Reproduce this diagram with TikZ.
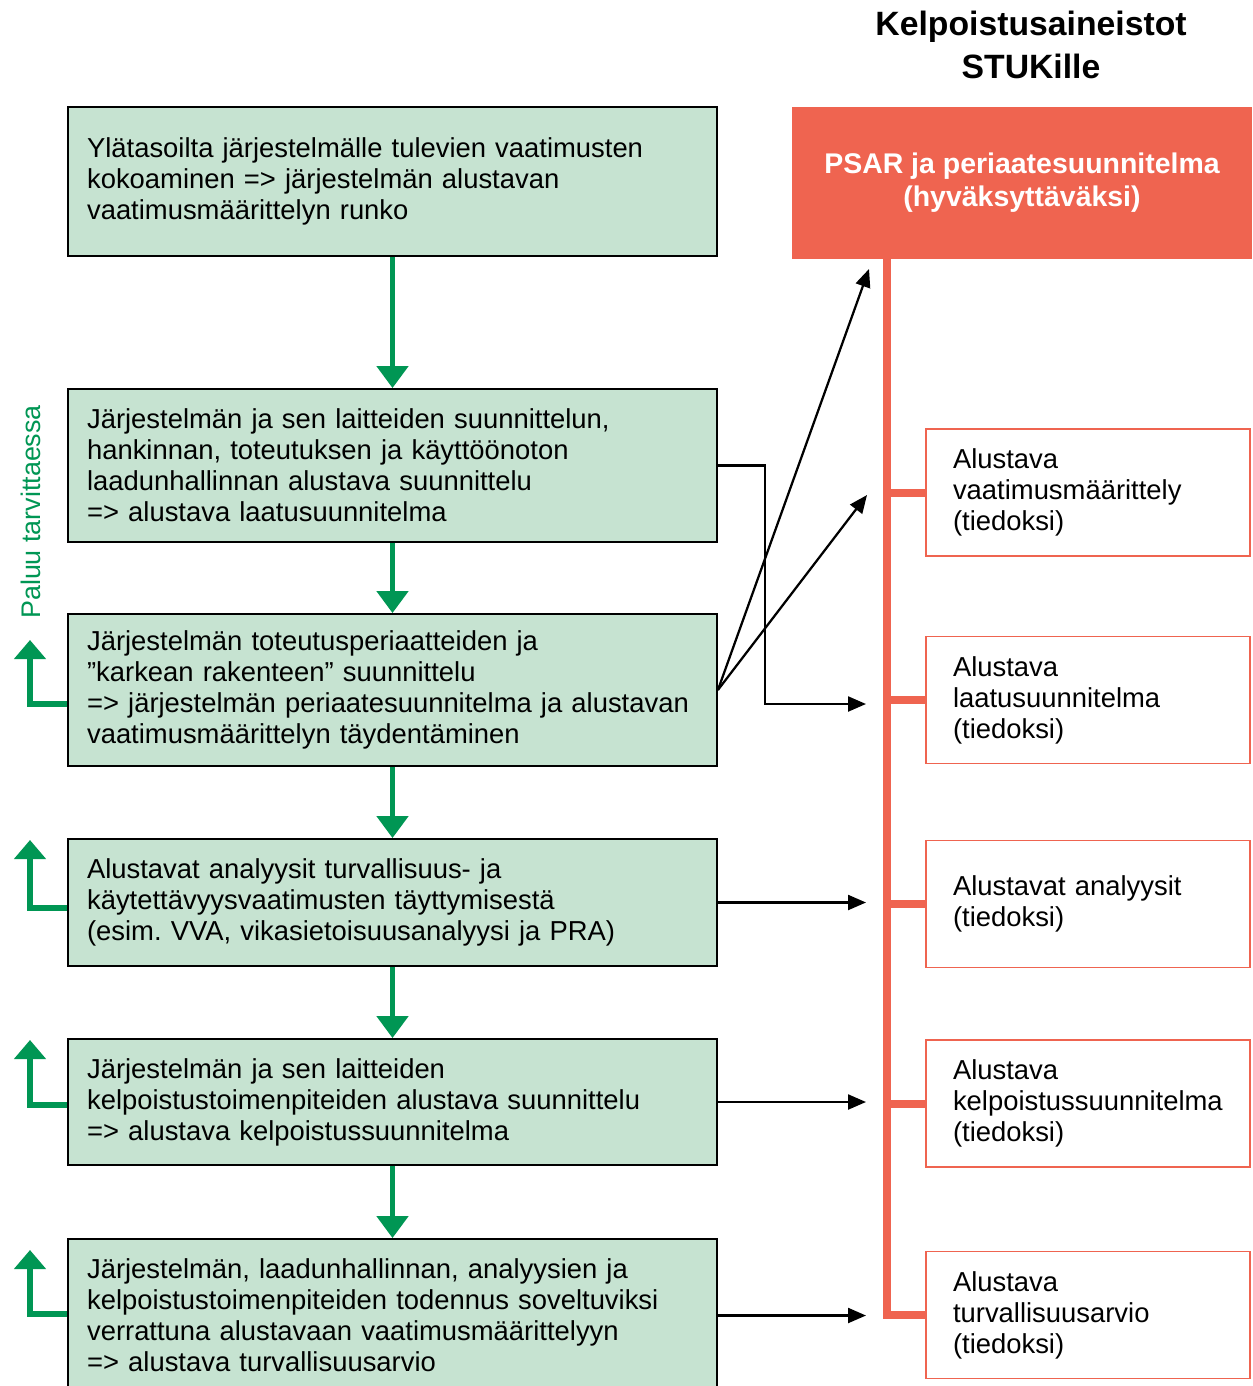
\documentclass[tikz,border=0pt]{standalone}
\usepackage{fontspec}
\setmainfont{Liberation Sans}
\usetikzlibrary{arrows.meta,calc}
\definecolor{gfill}{RGB}{198,227,209}
\definecolor{garr}{RGB}{0,150,84}
\definecolor{rred}{RGB}{239,100,80}
\begin{document}
\begin{tikzpicture}[x=0.02cm,y=-0.02cm,
 gbox/.style={draw=black,line width=1.1pt,fill=gfill,minimum width=12.98cm,text width=12.22cm,inner xsep=0.38cm,inner ysep=0pt,align=left,font=\fontsize{15.6}{17.6}\selectfont},
 rbox/.style={draw=rred,line width=1.1pt,fill=white,minimum width=6.48cm,minimum height=2.54cm,text width=5.4cm,inner xsep=0.54cm,inner ysep=0pt,align=left,font=\fontsize{15.6}{17.6}\selectfont},
 gdown/.style={draw=garr,line width=0.1cm,-{Triangle[width=0.62cm,length=0.44cm]}},
 gback/.style={draw=garr,line width=0.12cm,-{Triangle[width=0.62cm,length=0.38cm]}},
 barr/.style={draw=black,line width=0.045cm,-{Triangle[width=0.3cm,length=0.36cm]}},
 spine/.style={draw=rred,line width=0.16cm},
]
\clip (0,0) rectangle (1252,1386);
\fill[white] (0,0) rectangle (1252,1386);

% title
\node[font=\bfseries\fontsize{19.2}{24.4}\selectfont,align=center] (title) at (1031,45) {Kelpoistusaineistot\\STUKille};

% red head
\node[fill=rred,minimum width=9.2cm,minimum height=3.04cm,text=white,align=center,font=\bfseries\fontsize{16.2}{18.7}\selectfont] (r0) at (1022,183) {PSAR ja periaatesuunnitelma\\(hyväksyttäväksi)};

% left boxes
\node[gbox,minimum height=2.98cm] (b1) at (392.5,181.5) {Ylätasoilta järjestelmälle tulevien vaatimusten\\kokoaminen => järjestelmän alustavan\\vaatimusmäärittelyn runko};
\node[gbox,minimum height=3.06cm] (b2) at (392.5,465.5) {Järjestelmän ja sen laitteiden suunnittelun,\\hankinnan, toteutuksen ja käyttöönoton\\laadunhallinnan alustava suunnittelu\\=> alustava laatusuunnitelma};
\node[gbox,minimum height=3.04cm] (b3) at (392.5,690) {Järjestelmän toteutusperiaatteiden ja\\”karkean rakenteen” suunnittelu\\=> järjestelmän periaatesuunnitelma ja alustavan\\vaatimusmäärittelyn täydentäminen};
\node[gbox,minimum height=2.54cm] (b4) at (392.5,902.5) {Alustavat analyysit turvallisuus- ja\\käytettävyysvaatimusten täyttymisestä\\(esim.\ VVA, vikasietoisuusanalyysi ja PRA)};
\node[gbox,minimum height=2.52cm] (b5) at (392.5,1102) {Järjestelmän ja sen laitteiden\\kelpoistustoimenpiteiden alustava suunnittelu\\=> alustava kelpoistussuunnitelma};
\node[gbox,minimum height=3.06cm] (b6) at (392.5,1315.5) {Järjestelmän, laadunhallinnan, analyysien ja\\kelpoistustoimenpiteiden todennus soveltuviksi\\verrattuna alustavaan vaatimusmäärittelyyn\\=> alustava turvallisuusarvio};

% right boxes
\node[rbox] (r1) at (1088,492.5) {Alustava\\vaatimusmäärittely\\(tiedoksi)};
\node[rbox] (r2) at (1088,700) {Alustava\\laatusuunnitelma\\(tiedoksi)};
\node[rbox] (r3) at (1088,904) {Alustavat analyysit\\(tiedoksi)};
\node[rbox] (r4) at (1088,1103.5) {Alustava\\kelpoistussuunnitelma\\(tiedoksi)};
\node[rbox] (r5) at (1088,1315) {Alustava\\turvallisuusarvio\\(tiedoksi)};

% red spine
\coordinate (rs) at ([xshift=1.9cm,yshift=0.05cm]r0.south west);
\draw[spine] (rs) |- (r5.west);
\foreach \r in {r1,r2,r3,r4}{\draw[spine] (\r.west) -- (\r.west -| rs);}

% green down arrows
\draw[gdown] (b1.south) -- (b2.north);
\draw[gdown] (b2.south) -- (b3.north);
\draw[gdown] (b3.south) -- (b4.north);
\draw[gdown] (b4.south) -- (b5.north);
\draw[gdown] (b5.south) -- (b6.north);

% green return arrows
\coordinate (g3) at (30,640);
\coordinate (g4) at (30,840);
\coordinate (g5) at (30,1040);
\coordinate (g6) at (30,1250);
\draw[gback] ($(b3.west)+(0,14)$) -| (g3);
\draw[gback] ($(b4.west)+(0,5)$) -| (g4);
\draw[gback] ($(b5.west)+(0,3)$) -| (g5);
\draw[gback] ($(b6.west)+(0,-2)$) -| (g6);
\node[rotate=90,text=garr,font=\fontsize{15.3}{17}\selectfont] (paluu) at (31,512) {Paluu tarvittaessa};

% black arrows
\coordinate (t1) at (869,269);
\coordinate (t2) at (867,495);
\coordinate (t3) at (866,704);
\coordinate (tipx) at (866,0);
\draw[barr] (b3.east) -- (t1);
\draw[barr] (b3.east) -- (t2);
\draw[barr] (b2.east) -- ++(47,0) |- (t3);
\draw[barr] (b4.east) -- (b4.east -| tipx);
\draw[barr] (b5.east) -- (b5.east -| tipx);
\draw[barr] (b6.east) -- (b6.east -| tipx);
\end{tikzpicture}
\end{document}
